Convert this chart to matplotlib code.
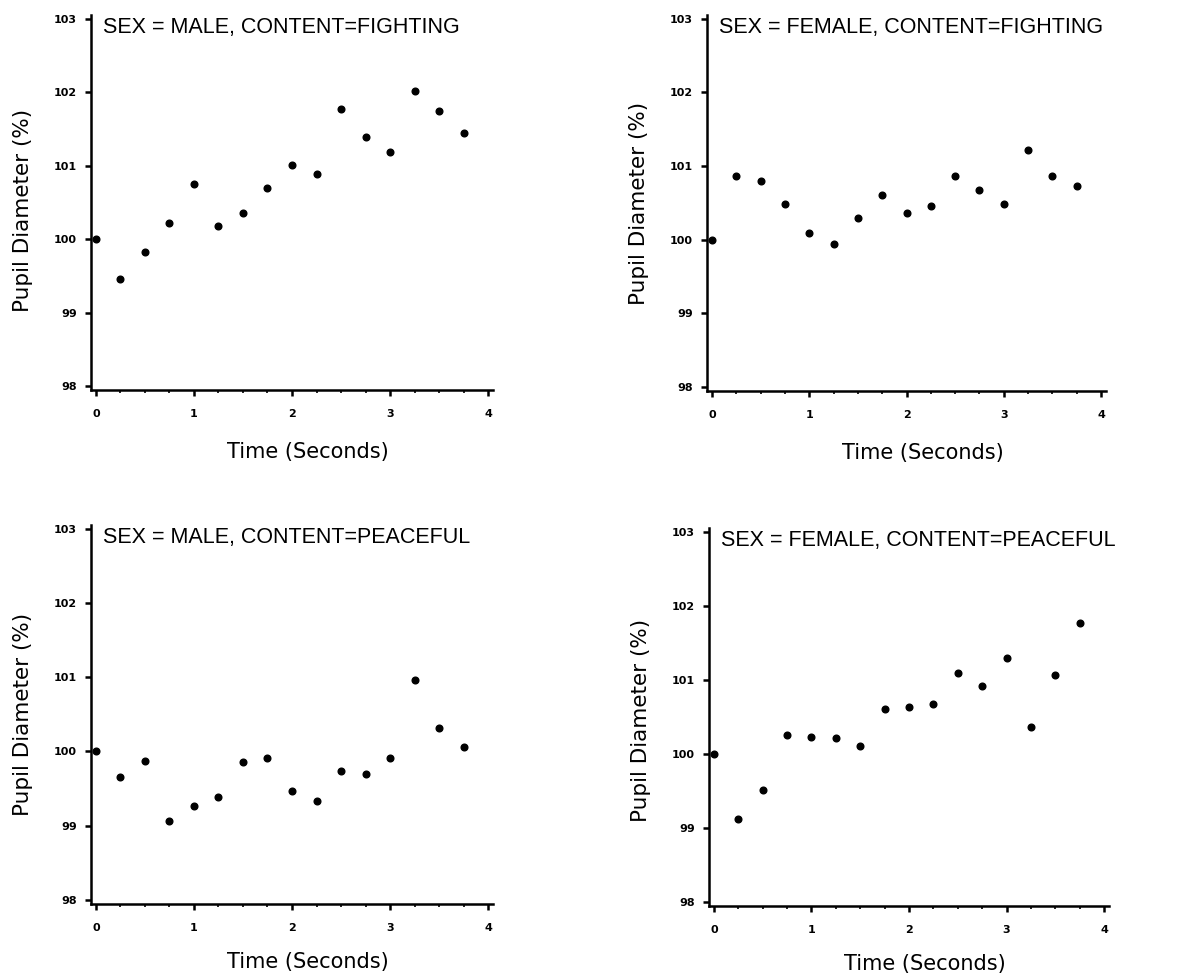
import numpy as np
import matplotlib
matplotlib.use('Agg')
import matplotlib.pyplot as plt
from matplotlib.ticker import MultipleLocator

time = [0, 0.25, 0.5, 0.75, 1, 1.25, 1.5, 1.75, 2, 2.25, 2.5, 2.75, 3, 3.25, 3.5, 3.75]

male_fighting = [100.0, 99.46, 99.83, 100.22, 100.75, 100.18, 100.36, 100.69,
                 101.01, 100.88, 101.77, 101.39, 101.19, 102.01, 101.74, 101.45]
female_fighting = [100.0, 100.86, 100.80, 100.49, 100.09, 99.94, 100.30, 100.61,
                   100.36, 100.45, 100.87, 100.68, 100.48, 101.22, 100.87, 100.73]
male_peaceful = [100.0, 99.66, 99.87, 99.06, 99.26, 99.38, 99.86, 99.91,
                 99.47, 99.33, 99.74, 99.70, 99.91, 100.96, 100.31, 100.06]
female_peaceful = [100.0, 99.12, 99.51, 100.25, 100.23, 100.21, 100.10, 100.60,
                   100.63, 100.67, 101.09, 100.91, 101.30, 100.36, 101.06, 101.77]

titles = ['SEX = MALE, CONTENT=FIGHTING', 'SEX = FEMALE, CONTENT=FIGHTING',
          'SEX = MALE, CONTENT=PEACEFUL', 'SEX = FEMALE, CONTENT=PEACEFUL']
series = [male_fighting, female_fighting, male_peaceful, female_peaceful]
yticks = [98, 99, 100, 101, 102, 103]
xticks = [0, 1, 2, 3, 4]

W, H = 1194, 976
# axes boxes in pixels: left, top, right, bottom
boxes = [(91, 15, 493, 390), (707, 15, 1106, 391),
         (91, 525, 493, 904), (709, 528, 1109, 906)]
xlabel_gap = [62, 62, 58, 58]  # px from x axis to label centre
ylabel_pos = [0.48, 0.50, 0.50, 0.49]

fig = plt.figure(figsize=(W / 100, H / 100), dpi=100)

for (l, t, r, b), title, vals, gap, ypos in zip(boxes, titles, series, xlabel_gap, ylabel_pos):
    ax = fig.add_axes([l / W, 1 - b / H, (r - l) / W, (b - t) / H])
    ax.plot(time, vals, 'o', color='black', markersize=4.8, clip_on=False)
    ax.set_xlim(-0.05, 4.05)
    ax.set_ylim(97.945, 103.05)
    ax.spines['top'].set_visible(False)
    ax.spines['right'].set_visible(False)
    ax.spines['left'].set_linewidth(1.8)
    ax.spines['bottom'].set_linewidth(1.8)
    ax.set_xticks(xticks)
    ax.set_yticks(yticks)
    ax.xaxis.set_minor_locator(MultipleLocator(0.25))
    ax.tick_params(axis='both', which='major', direction='out', length=4, width=1.8,
                   labelsize=8)
    ax.tick_params(axis='x', which='minor', direction='out', length=2, width=1.2)
    ax.tick_params(axis='x', which='major', pad=10)
    ax.tick_params(axis='y', which='major', pad=6)
    for lab in ax.get_xticklabels() + ax.get_yticklabels():
        lab.set_fontweight('bold')
    ax.text(0.07, 102.88, title, fontsize=15.5, family='Liberation Sans',
            va='center', ha='left')
    ax.set_xlabel('Time (Seconds)', fontsize=15, family='DejaVu Sans', va='center')
    ax.set_ylabel('Pupil Diameter (%)', fontsize=15.5, family='DejaVu Sans', va='center')
    ax.xaxis.set_label_coords(0.54, -gap / (b - t))
    ax.yaxis.set_label_coords(-68 / (r - l), ypos)

fig.savefig('out.png', dpi=100)
print('--> out.png')
